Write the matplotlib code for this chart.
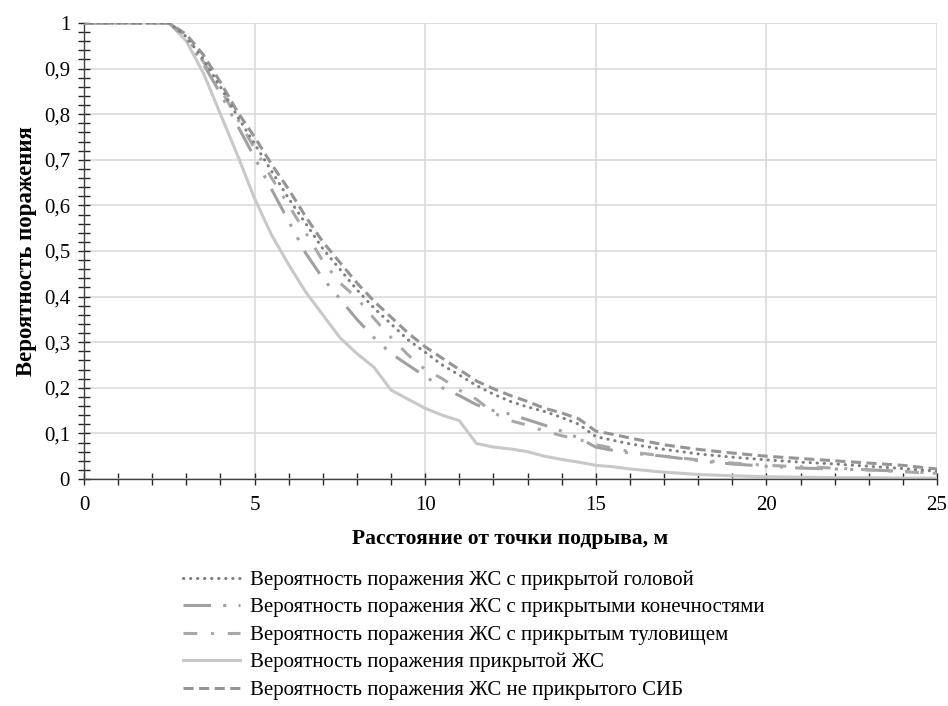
import matplotlib
matplotlib.use('Agg')
import matplotlib.pyplot as plt
from matplotlib.ticker import MultipleLocator, FuncFormatter

plt.rcParams['font.family'] = ['Liberation Serif', 'DejaVu Serif']

# расстояние, м
x = [0, 1, 2, 2.5, 3, 3.5, 4, 4.5, 5, 5.5, 6, 6.5, 7, 7.5, 8, 8.5, 9, 9.5, 10,
     10.5, 11, 11.5, 12, 12.5, 13, 13.5, 14, 14.5, 15, 15.5, 16, 17, 18, 19, 20,
     21, 22, 23, 24, 25]

p_head = [1, 1, 1, 1, 0.97, 0.92, 0.86, 0.795, 0.735, 0.675, 0.615, 0.56, 0.505,
          0.46, 0.415, 0.375, 0.34, 0.305, 0.278, 0.25, 0.228, 0.205, 0.186, 0.17,
          0.158, 0.148, 0.135, 0.12, 0.093, 0.085, 0.077, 0.065, 0.055, 0.048,
          0.042, 0.037, 0.033, 0.028, 0.023, 0.017]
p_limbs = [1, 1, 1, 1, 0.965, 0.91, 0.845, 0.775, 0.705, 0.635, 0.565, 0.495,
           0.44, 0.395, 0.35, 0.31, 0.275, 0.25, 0.225, 0.2, 0.183, 0.163, 0.15,
           0.142, 0.13, 0.118, 0.105, 0.09, 0.07, 0.063, 0.057, 0.05, 0.04, 0.033,
           0.028, 0.024, 0.022, 0.02, 0.017, 0.013]
p_torso = [1, 1, 1, 1, 0.97, 0.915, 0.855, 0.79, 0.725, 0.66, 0.6, 0.54, 0.478,
           0.43, 0.397, 0.352, 0.31, 0.272, 0.24, 0.22, 0.195, 0.175, 0.145, 0.128,
           0.118, 0.105, 0.095, 0.087, 0.075, 0.068, 0.06, 0.05, 0.042, 0.035,
           0.03, 0.027, 0.024, 0.02, 0.016, 0.012]
p_covered = [1, 1, 1, 1, 0.96, 0.89, 0.8, 0.71, 0.615, 0.535, 0.47, 0.41, 0.36,
             0.31, 0.275, 0.245, 0.195, 0.175, 0.155, 0.14, 0.128, 0.078, 0.07,
             0.066, 0.06, 0.05, 0.043, 0.037, 0.03, 0.027, 0.022, 0.015, 0.01,
             0.007, 0.005, 0.004, 0.003, 0.003, 0.002, 0.002]
p_open = [1, 1, 1, 1, 0.975, 0.93, 0.87, 0.805, 0.75, 0.69, 0.635, 0.575, 0.52,
          0.475, 0.43, 0.39, 0.355, 0.32, 0.29, 0.265, 0.24, 0.215, 0.198, 0.183,
          0.17, 0.155, 0.145, 0.132, 0.105, 0.098, 0.09, 0.075, 0.065, 0.057,
          0.05, 0.045, 0.04, 0.035, 0.03, 0.022]

labels = ['Вероятность поражения ЖС с прикрытой головой',
          'Вероятность поражения ЖС с прикрытыми конечностями',
          'Вероятность поражения ЖС с прикрытым туловищем',
          'Вероятность поражения прикрытой ЖС',
          'Вероятность поражения ЖС не прикрытого СИБ']

fig = plt.figure(figsize=(9.48, 7.06), dpi=100)
ax = fig.add_axes([0.0886, 0.3215, 0.8998, 0.6459])

lw = 2.2
ax.plot(x, p_head, color='#7f7f7f', lw=lw, linestyle=(0, (0.1, 2.2)),
        dash_capstyle='round', label=labels[0], zorder=5)
ax.plot(x, p_limbs, color='#a0a0a0', lw=lw,
        linestyle=(0, (9, 4, 1, 4, 1, 4)), label=labels[1], zorder=3)
ax.plot(x, p_torso, color='#a8a8a8', lw=lw,
        linestyle=(0, (4.5, 4.5, 1, 4.5)), label=labels[2], zorder=3)
ax.plot(x, p_covered, color='#c8c8c8', lw=lw, linestyle='-',
        label=labels[3], zorder=2)
ax.plot(x, p_open, color='#959595', lw=lw, linestyle=(0, (3.3, 1.8)),
        label=labels[4], zorder=4)

ax.set_xlim(0, 25)
ax.set_ylim(0, 1)
ax.xaxis.set_major_locator(MultipleLocator(5))
ax.xaxis.set_minor_locator(MultipleLocator(1))
ax.yaxis.set_major_locator(MultipleLocator(0.1))
ax.yaxis.set_minor_locator(MultipleLocator(0.02))
ax.yaxis.set_major_formatter(FuncFormatter(
    lambda v, p: ('%g' % round(v, 2)).replace('.', ',')))

ax.grid(True, which='major', color='#d9d9d9', lw=1.1)
ax.set_axisbelow(True)
for s in ['top', 'right']:
    ax.spines[s].set_visible(False)
for s in ['left', 'bottom']:
    ax.spines[s].set_color('#404040')
    ax.spines[s].set_linewidth(1.0)
ax.tick_params(which='both', direction='inout', color='#262626', width=1.0,
               labelsize=15, length=8)
ax.tick_params(axis='x', pad=8)
ax.tick_params(axis='y', pad=6)

ax.set_xlabel('Расстояние от точки подрыва, м', fontsize=15.5,
              fontweight='bold', labelpad=10)
ax.set_ylabel('Вероятность поражения', fontsize=16.5, fontweight='bold',
              labelpad=5)

fig.legend(loc='upper center', bbox_to_anchor=(0.5, 0.207), frameon=False,
           fontsize=15, handlelength=2.7, handletextpad=0.5, labelspacing=0.38,
           borderpad=0)

fig.savefig('out.png', dpi=100)
